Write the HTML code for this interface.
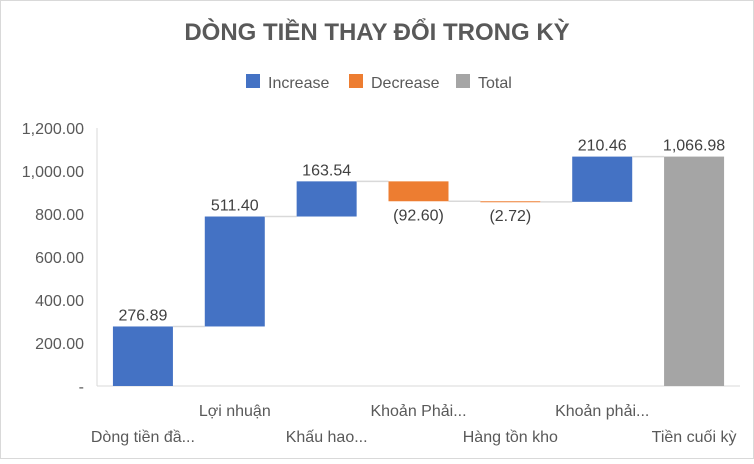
<!DOCTYPE html>
<html><head><meta charset="utf-8"><style>
body{margin:0;background:#fff;}
svg text{font-family:"Liberation Sans","Noto Sans CJK SC",sans-serif;}
</style></head><body>
<svg width="754" height="459" viewBox="0 0 754 459">
<rect x="0.5" y="0.5" width="753" height="458" fill="#fff" stroke="#d9d9d9"/>
<text x="377" y="40" text-anchor="middle" font-size="24" font-weight="bold" fill="#595959">DÒNG TIỀN THAY ĐỔI TRONG KỲ</text>
<g>
<rect x="246" y="74" width="14" height="14" fill="#4472c4"/>
<text x="268" y="88" font-size="16" fill="#595959">Increase</text>
<rect x="349" y="74" width="14" height="14" fill="#ed7d31"/>
<text x="371" y="88" font-size="16" fill="#595959">Decrease</text>
<rect x="456" y="74" width="14" height="14" fill="#a5a5a5"/>
<text x="478" y="88" font-size="16" fill="#595959">Total</text>
</g>
<g id="axes"></g>
<g id="marks"></g>
</svg>
<script>
const categories=["Dòng tiền đầ...","Lợi nhuận","Khấu hao...","Khoản Phải...","Hàng tồn kho","Khoản phải...","Tiền cuối kỳ"];
const values=[276.89,511.40,163.54,-92.60,-2.72,210.46,1066.98];
const labels=["276.89","511.40","163.54","(92.60)","(2.72)","210.46","1,066.98"];
const isTotal=[false,false,false,false,false,false,true];
const yTicks=[0,200,400,600,800,1000,1200];
const yTickLabels=["-","200.00","400.00","600.00","800.00","1,000.00","1,200.00"];
const NS="http://www.w3.org/2000/svg";
const x0=97,x1=740,y0=386,ymax=1200,ytop=128;
const y=v=>y0-(v/ymax)*(y0-ytop);
const band=(x1-x0)/categories.length;
const xc=i=>x0+band*(i+0.5);
const bw=60;
function mk(tag,attrs,parent){const e=document.createElementNS(NS,tag);for(const k in attrs)e.setAttribute(k,attrs[k]);parent.appendChild(e);return e;}
const ax=document.getElementById('axes'),mg=document.getElementById('marks');
let l=mk('line',{x1:x0,y1:ytop,x2:x0,y2:y0,stroke:'#d9d9d9'},ax);


l=mk('line',{x1:x0,y1:y0,x2:x1,y2:y0,stroke:'#d9d9d9'},ax);


yTicks.forEach((t,i)=>{const e=mk('text',{x:84,y:y(t)+6,'text-anchor':'end','font-size':16,fill:'#595959'},ax);e.textContent=yTickLabels[i];

});
categories.forEach((c,i)=>{const e=mk('text',{x:xc(i),y:i%2?416:442,'text-anchor':'middle','font-size':16,fill:'#595959'},ax);e.textContent=c;

});
let cum=0;
values.forEach((v,i)=>{let a,b,col;
if(isTotal[i]){a=0;b=v;col='#a5a5a5';}else{a=cum;b=cum+v;col=v>=0?'#4472c4':'#ed7d31';}
const top=y(Math.max(a,b)),bot=y(Math.min(a,b));
const r=mk('rect',{x:xc(i)-bw/2,y:top,width:bw,height:Math.max(bot-top,1),fill:col},mg);


const end=isTotal[i]?v:b;
if(i<values.length-1){const cn=mk('line',{x1:xc(i)+bw/2,y1:y(end),x2:xc(i+1)-bw/2,y2:y(end),stroke:'#d9d9d9','stroke-width':1.5},mg);

}
const neg=!isTotal[i]&&v<0;
const t=mk('text',{x:xc(i),y:neg?bot+19:top-6,'text-anchor':'middle','font-size':16,fill:'#404040'},mg);t.textContent=labels[i];


if(!isTotal[i])cum=b;});
</script>
</body></html>
